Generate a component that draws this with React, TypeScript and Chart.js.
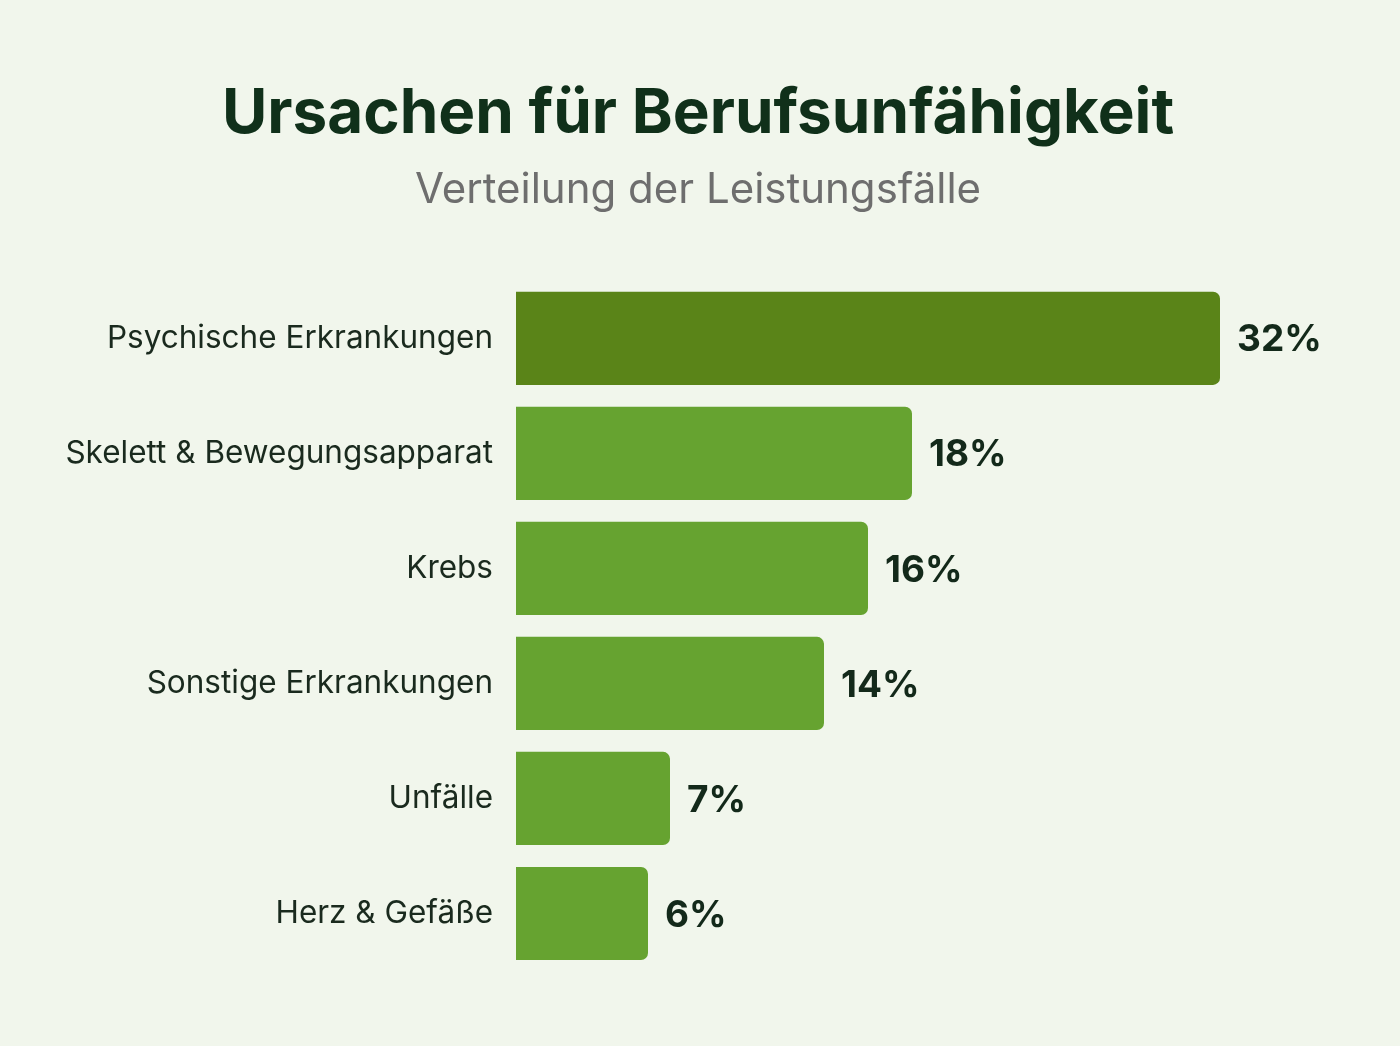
import React, { useEffect, useRef } from "react";
import { Chart, registerables } from "chart.js";

Chart.register(...registerables);

const categories = [
  "Psychische Erkrankungen",
  "Skelett & Bewegungsapparat",
  "Krebs",
  "Sonstige Erkrankungen",
  "Unfälle",
  "Herz & Gefäße",
];
const values = [32, 18, 16, 14, 7, 6];
const barColors = ["#5a8418", "#66a330", "#66a330", "#66a330", "#66a330", "#66a330"];
const titleText = "Ursachen für Berufsunfähigkeit";
const subtitleText = "Verteilung der Leistungsfälle";

const FONT = "Inter, 'Noto Sans', sans-serif";

const valueLabels = {
  id: "valueLabels",
  afterDatasetsDraw(chart: any) {
    const ctx = chart.ctx;
    const meta = chart.getDatasetMeta(0);
    ctx.save();
    ctx.font = `700 37px ${FONT}`;
    ctx.fillStyle = "#13291a";
    ctx.textAlign = "left";
    ctx.textBaseline = "middle";
    meta.data.forEach((bar: any, i: number) => {
      ctx.fillText(`${values[i]}%`, bar.x + 17, bar.y + 2);
    });
    ctx.restore();
  },
};

const bgPlugin = {
  id: "bg",
  beforeDraw(chart: any) {
    const ctx = chart.ctx;
    ctx.save();
    ctx.fillStyle = "#f1f6ec";
    ctx.fillRect(0, 0, chart.width, chart.height);
    ctx.restore();
  },
};

export default function App() {
  const ref = useRef<HTMLCanvasElement>(null);
  useEffect(() => {
    if (!ref.current) return;
    const chart = new Chart(ref.current, {
      type: "bar",
      data: {
        labels: categories,
        datasets: [
          {
            data: values,
            backgroundColor: barColors,
            borderRadius: 7,
            borderSkipped: "start",
            categoryPercentage: 1,
            barPercentage: 0.81,
          },
        ],
      },
      options: {
        indexAxis: "y",
        responsive: false,
        animation: false,
        layout: { padding: { left: 0, right: 4, top: 0, bottom: 75 } },
        plugins: {
          legend: { display: false },
          tooltip: { enabled: false },
          title: {
            display: true,
            text: titleText,
            color: "#10301a",
            font: { family: FONT, size: 62, weight: "bold" },
            padding: { top: 77, bottom: 14 },
          },
          subtitle: {
            display: true,
            text: subtitleText,
            color: "#6e6e6e",
            font: { family: FONT, size: 42, weight: "normal" },
            padding: { top: 0, bottom: 65 },
          },
        },
        scales: {
          x: {
            display: false,
            min: 0,
            max: 40,
          },
          y: {
            grid: { display: false, drawTicks: false },
            border: { display: false },
            ticks: {
              color: "#1a2a1e",
              font: { family: FONT, size: 31.5 },
              padding: 23,
            },
            afterFit(scale: any) {
              scale.width = 516;
            },
          },
        },
      },
      plugins: [bgPlugin, valueLabels],
    });
    return () => chart.destroy();
  }, []);
  return (
    <div style={{ position: "fixed", left: 0, top: 0, width: 1400, height: 1046, background: "#f1f6ec" }}>
      <canvas ref={ref} width={1400} height={1046} style={{ display: "block" }} />
    </div>
  );
}
